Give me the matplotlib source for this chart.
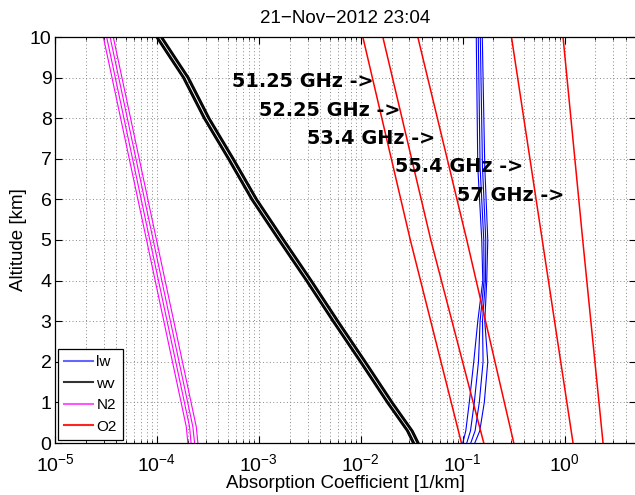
import matplotlib
matplotlib.use("Agg")
import matplotlib.pyplot as plt
from matplotlib.lines import Line2D

plt.rcParams['font.family'] = ['Liberation Sans', 'DejaVu Sans']
plt.rcParams['mathtext.fontset'] = 'custom'
plt.rcParams['mathtext.rm'] = 'Liberation Sans'

# liquid water (lw), 4 ensemble members
alt_lw = [0, 0.3, 1, 2, 3, 4, 5, 6.8, 10]
lw_1 = [0.1000, 0.1070, 0.1158, 0.1281, 0.1403, 0.1571, 0.1535, 0.1403, 0.1356]
lw_2 = [0.1094, 0.1190, 0.1297, 0.1425, 0.1478, 0.1617, 0.1606, 0.1478, 0.1419]
lw_3 = [0.1198, 0.1320, 0.1452, 0.1581, 0.1560, 0.1669, 0.1680, 0.1560, 0.1485]
lw_4 = [0.1311, 0.1468, 0.1625, 0.1758, 0.1643, 0.1718, 0.1758, 0.1643, 0.1553]

# water vapour (wv), 4 ensemble members
alt_wv = [0, 0.3, 1, 2, 3, 4, 5, 6, 7, 8, 9, 9.5, 10]
wv_1 = [3.233e-2, 2.822e-2, 1.794e-2, 9.78e-3, 5.27e-3, 2.888e-3, 1.551e-3,
        8.41e-4, 4.96e-4, 2.869e-4, 1.794e-4, 1.326e-4, 9.81e-5]
wv_2 = [3.345e-2, 2.919e-2, 1.856e-2, 1.012e-2, 5.45e-3, 2.987e-3, 1.605e-3,
        8.70e-4, 5.13e-4, 2.968e-4, 1.856e-4, 1.372e-4, 1.015e-4]
wv_3 = [3.579e-2, 3.124e-2, 1.986e-2, 1.083e-2, 5.83e-3, 3.196e-3, 1.717e-3,
        9.31e-4, 5.49e-4, 3.176e-4, 1.986e-4, 1.468e-4, 1.086e-4]
wv_4 = [3.703e-2, 3.232e-2, 2.055e-2, 1.120e-2, 6.04e-3, 3.307e-3, 1.776e-3,
        9.63e-4, 5.68e-4, 3.285e-4, 2.055e-4, 1.518e-4, 1.124e-4]

# nitrogen (N2), 4 ensemble members
alt_n2 = [0, 0.4, 10]
n2_1 = [2.01e-4, 1.94e-4, 2.98e-5]
n2_2 = [2.16e-4, 2.09e-4, 3.21e-5]
n2_3 = [2.34e-4, 2.25e-4, 3.47e-5]
n2_4 = [2.52e-4, 2.43e-4, 3.73e-5]

# oxygen (O2), one line per channel
alt_o2 = [0, 5, 10]
o2_5125 = [0.0970, 0.03057, 0.01046]
o2_5225 = [0.1606, 0.04857, 0.01643]
o2_5340 = [0.3162, 0.1094, 0.0362]
o2_5540 = [1.206, 0.6017, 0.3002]
o2_5700 = [2.375, 1.501, 0.962]

channels = ['51.25 GHz ->', '52.25 GHz ->', '53.4 GHz ->', '55.4 GHz ->', '57 GHz ->']
label_x = [5.43e-4, 1.0e-3, 2.955e-3, 0.02154, 0.0873]
label_alt = [8.9, 8.2, 7.5, 6.8, 6.1]

fig = plt.figure(figsize=(6.35, 4.95), dpi=100)
ax = fig.add_axes([55 / 635, 52 / 495, 581 / 635, 406 / 495])

for m in [lw_1, lw_2, lw_3, lw_4]:
    ax.plot(m, alt_lw, color='#0000ff', lw=0.8)
for m in [wv_1, wv_2, wv_3, wv_4]:
    ax.plot(m, alt_wv, color='black', lw=1.2)
for m in [n2_1, n2_2, n2_3, n2_4]:
    ax.plot(m, alt_n2, color='#ff00ff', lw=0.8)
for m in [o2_5125, o2_5225, o2_5340, o2_5540, o2_5700]:
    ax.plot(m, alt_o2, color='#ff0000', lw=1.1)

for txt, xx, yy in zip(channels, label_x, label_alt):
    ax.text(xx, yy, txt, fontsize=13.9, fontweight='bold', family='DejaVu Sans',
            ha='left', va='center')

ax.set_xscale('log')
ax.set_xlim(1e-5, 5)
ax.set_ylim(0, 10)
ax.set_yticks(range(0, 11))

ax.grid(True, which='major', color='#888888', linestyle=(0, (1, 2.5)), lw=0.7)
ax.grid(True, which='minor', axis='x', color='#888888', linestyle=(0, (1, 2.5)), lw=0.7)
ax.tick_params(which='both', direction='in', top=True, right=True, labelsize=14)
ax.tick_params(which='major', length=5)
ax.tick_params(which='minor', length=2.5)
ax.tick_params(axis='x', pad=7)
ax.tick_params(axis='y', pad=2.5)
for s in ax.spines.values():
    s.set_linewidth(0.9)

ax.set_title('21\u2212Nov\u22122012 23:04', fontsize=13.5, pad=10)
ax.set_xlabel('Absorption Coefficient [1/km]', fontsize=13.5, labelpad=0)
ax.set_ylabel('Altitude [km]', fontsize=13.5, labelpad=2)

handles = [Line2D([], [], color='#6666ff', lw=1.5),
           Line2D([], [], color='#333333', lw=1.5),
           Line2D([], [], color='#ff55ff', lw=1.5),
           Line2D([], [], color='#ff2222', lw=1.5)]
leg = ax.legend(handles, ['lw', 'wv', 'N2', 'O2'], loc='lower left', fontsize=11,
                fancybox=False, framealpha=1, edgecolor='black', borderaxespad=0.2,
                handlelength=1.9, handletextpad=0.2, labelspacing=0.5, borderpad=0.4)
leg.get_frame().set_linewidth(0.9)

fig.savefig('out.png', dpi=100)
